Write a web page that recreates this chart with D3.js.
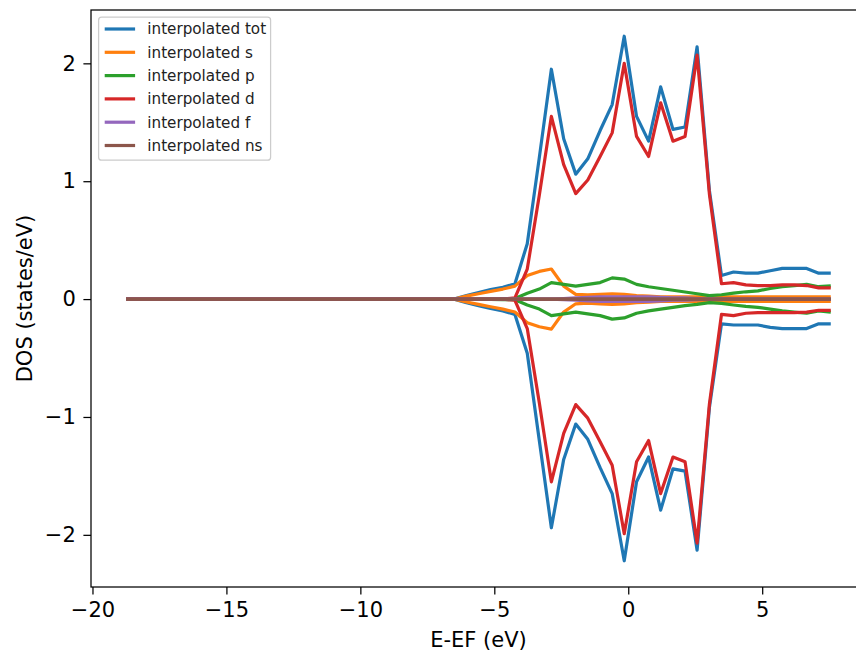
<!DOCTYPE html>
<html>
<head>
<meta charset="utf-8">
<script src="https://cdn.jsdelivr.net/npm/d3@7"></script>
<style>
  body { margin: 0; background: #fff; }
  svg { display: block; font-family: "DejaVu Sans", sans-serif; }
</style>
</head>
<body>
<script>
// energy grid (eV, relative to the Fermi level)
const energy = [-18.74,-18.29,-17.83,-17.38,-16.93,-16.47,-16.02,-15.57,-15.11,-14.66,-14.21,-13.75,-13.30,-12.85,-12.39,-11.94,-11.48,-11.03,-10.58,-10.12,-9.67,-9.22,-8.76,-8.31,-7.86,-7.40,-6.95,-6.50,-6.04,-5.59,-5.14,-4.68,-4.23,-3.77,-3.32,-2.87,-2.41,-1.96,-1.51,-1.05,-0.60,-0.15,0.31,0.76,1.21,1.67,2.12,2.57,3.03,3.48,3.93,4.39,4.84,5.30,5.75,6.20,6.66,7.11,7.56];

// spin up
const totUp = [0,0,0,0,0,0,0,0,0,0,0,0,0,0,0,0,0,0,0,0,0,0,0,0,0,0,0,0.00,0.03,0.055,0.08,0.10,0.13,0.47,1.20,1.95,1.36,1.06,1.19,1.43,1.65,2.23,1.55,1.34,1.80,1.44,1.46,2.14,0.92,0.20,0.23,0.22,0.22,0.24,0.26,0.26,0.26,0.22,0.22];
const sUp   = [0,0,0,0,0,0,0,0,0,0,0,0,0,0,0,0,0,0,0,0,0,0,0,0,0,0,0,0.00,0.025,0.045,0.065,0.085,0.11,0.20,0.235,0.255,0.11,0.04,0.035,0.04,0.045,0.04,0.03,0.025,0.02,0.02,0.02,0.02,0.02,0.02,0.02,0.02,0.02,0.02,0.02,0.02,0.02,0.02,0.02];
const pUp   = [0,0,0,0,0,0,0,0,0,0,0,0,0,0,0,0,0,0,0,0,0,0,0,0,0,0,0,0,0,0.002,0.003,0.004,0.005,0.05,0.085,0.14,0.125,0.11,0.125,0.14,0.18,0.17,0.125,0.105,0.09,0.075,0.06,0.045,0.03,0.037,0.05,0.062,0.07,0.09,0.105,0.114,0.125,0.105,0.112];
const dUp   = [0,0,0,0,0,0,0,0,0,0,0,0,0,0,0,0,0,0,0,0,0,0,0,0,0,0,0,0,0,0,0,0,0.01,0.255,0.88,1.55,1.14,0.895,1.01,1.21,1.41,2.00,1.38,1.21,1.665,1.34,1.38,2.07,0.89,0.13,0.14,0.12,0.115,0.115,0.12,0.12,0.115,0.095,0.095];
const fUp   = [0,0,0,0,0,0,0,0,0,0,0,0,0,0,0,0,0,0,0,0,0,0,0,0,0,0,0,0,0,0,0,0,0,0,0,0,0.005,0.01,0.015,0.02,0.02,0.02,0.02,0.02,0.015,0.01,0.01,0.005,0,0,0,0,0,0,0,0,0,0,0];
const nsUp  = [0,0,0,0,0,0,0,0,0,0,0,0,0,0,0,0,0,0,0,0,0,0,0,0,0,0,0,0,0,0,0,0,0,0,0,0,0,0,0,0,0,0,0,0,0,0,0,0,0,0,0,0,0,0,0,0,0,0,0];

// spin down (plotted negative)
const totDn = [0,0,0,0,0,0,0,0,0,0,0,0,0,0,0,0,0,0,0,0,0,0,0,0,0,0,0,0.00,-0.03,-0.055,-0.08,-0.10,-0.13,-0.46,-1.20,-1.94,-1.36,-1.06,-1.19,-1.43,-1.65,-2.22,-1.55,-1.34,-1.79,-1.44,-1.46,-2.13,-0.92,-0.21,-0.22,-0.22,-0.22,-0.24,-0.25,-0.25,-0.25,-0.21,-0.21];
const sDn   = [0,0,0,0,0,0,0,0,0,0,0,0,0,0,0,0,0,0,0,0,0,0,0,0,0,0,0,0.00,-0.025,-0.045,-0.065,-0.085,-0.11,-0.20,-0.235,-0.255,-0.11,-0.04,-0.035,-0.04,-0.045,-0.04,-0.03,-0.025,-0.02,-0.02,-0.02,-0.02,-0.02,-0.02,-0.02,-0.02,-0.02,-0.02,-0.02,-0.02,-0.02,-0.02,-0.02];
const pDn   = [0,0,0,0,0,0,0,0,0,0,0,0,0,0,0,0,0,0,0,0,0,0,0,0,0,0,0,0,0,-0.002,-0.003,-0.004,-0.005,-0.05,-0.085,-0.14,-0.125,-0.11,-0.125,-0.14,-0.17,-0.16,-0.12,-0.10,-0.085,-0.07,-0.055,-0.045,-0.03,-0.037,-0.05,-0.062,-0.07,-0.085,-0.10,-0.11,-0.12,-0.10,-0.11];
const dDn   = [0,0,0,0,0,0,0,0,0,0,0,0,0,0,0,0,0,0,0,0,0,0,0,0,0,0,0,0,0,0,0,0,-0.01,-0.25,-0.88,-1.55,-1.14,-0.895,-1.01,-1.21,-1.41,-1.99,-1.38,-1.20,-1.65,-1.34,-1.38,-2.07,-0.89,-0.13,-0.14,-0.12,-0.115,-0.115,-0.115,-0.115,-0.11,-0.095,-0.095];
const fDn   = [0,0,0,0,0,0,0,0,0,0,0,0,0,0,0,0,0,0,0,0,0,0,0,0,0,0,0,0,0,0,0,0,0,0,0,0,-0.005,-0.01,-0.015,-0.02,-0.02,-0.02,-0.02,-0.02,-0.015,-0.01,-0.01,-0.005,0,0,0,0,0,0,0,0,0,0,0];
const nsDn  = [0,0,0,0,0,0,0,0,0,0,0,0,0,0,0,0,0,0,0,0,0,0,0,0,0,0,0,0,0,0,0,0,0,0,0,0,0,0,0,0,0,0,0,0,0,0,0,0,0,0,0,0,0,0,0,0,0,0,0];

const labels = ["interpolated tot", "interpolated s", "interpolated p", "interpolated d", "interpolated f", "interpolated ns"];
const colors = ["#1f77b4", "#ff7f0e", "#2ca02c", "#d62728", "#9467bd", "#8c564b"];
const upSeries = [totUp, sUp, pUp, dUp, fUp, nsUp];
const dnSeries = [totDn, sDn, pDn, dDn, fDn, nsDn];

const xTicks = [-20, -15, -10, -5, 0, 5];
const yTicks = [-2, -1, 0, 1, 2];

const width = 856;
const height = 656;
const margin = { top: 10, left: 91 };
const plotW = 775;
const plotH = 577;
const FS = 21;      // axis text size
const LFS = 15.2;   // legend text size
const LW = 3.2;     // line width

const svg = d3.select("body")
  .append("svg")
  .attr("width", width)
  .attr("height", height);

// matplotlib-like 5% margins
const xExt = d3.extent(energy);
const xPad = (xExt[1] - xExt[0]) * 0.05;
const allVals = upSeries.concat(dnSeries).flat();
const yExt = d3.extent(allVals);
const yPad = (yExt[1] - yExt[0]) * 0.05;

const x = d3.scaleLinear()
  .domain([xExt[0] - xPad, xExt[1] + xPad])
  .range([margin.left, margin.left + plotW]);

const y = d3.scaleLinear()
  .domain([yExt[0] - yPad, yExt[1] + yPad])
  .range([margin.top + plotH, margin.top]);

svg.append("defs").append("clipPath").attr("id", "clip")
  .append("rect")
  .attr("x", margin.left).attr("y", margin.top)
  .attr("width", plotW).attr("height", plotH);

const line = d3.line()
  .x((d, i) => x(energy[i]))
  .y((d) => y(d));

const lines = svg.append("g").attr("clip-path", "url(#clip)");
upSeries.forEach((s, k) => {
  lines.append("path")
    .attr("d", line(s))
    .attr("fill", "none")
    .attr("stroke", colors[k])
    .attr("stroke-width", LW)
    .attr("stroke-linejoin", "round");
  lines.append("path")
    .attr("d", line(dnSeries[k]))
    .attr("fill", "none")
    .attr("stroke", colors[k])
    .attr("stroke-width", LW)
    .attr("stroke-linejoin", "round");
});

// axes
const fmt = (d) => d3.format("")(d).replace("-", "\u2212");

const xAxis = svg.append("g")
  .attr("transform", `translate(0,${margin.top + plotH})`)
  .call(d3.axisBottom(x).tickValues(xTicks).tickFormat(fmt).tickSize(7.6).tickPadding(7.6));

const yAxis = svg.append("g")
  .attr("transform", `translate(${margin.left},0)`)
  .call(d3.axisLeft(y).tickValues(yTicks).tickFormat(fmt).tickSize(7.6).tickPadding(7.6));

[xAxis, yAxis].forEach((g) => {
  g.select(".domain").remove();
  g.selectAll(".tick line").attr("stroke", "#000").attr("stroke-width", 1.25);
  g.selectAll(".tick text")
    .attr("fill", "#000")
    .style("font-size", FS + "px")
    .style("font-family", "DejaVu Sans");
});

// frame
svg.append("rect")
  .attr("x", margin.left)
  .attr("y", margin.top)
  .attr("width", plotW)
  .attr("height", plotH)
  .attr("fill", "none")
  .attr("stroke", "#000")
  .attr("stroke-width", 1.25);

// axis labels
svg.append("text")
  .attr("x", margin.left + plotW / 2)
  .attr("y", 647)
  .attr("text-anchor", "middle")
  .style("font-size", FS + "px")
  .text("E-EF (eV)");

svg.append("text")
  .attr("transform", `translate(32,${margin.top + plotH / 2}) rotate(-90)`)
  .attr("text-anchor", "middle")
  .style("font-size", FS + "px")
  .text("DOS (states/eV)");

// legend
const leg = svg.append("g").attr("transform", "translate(98.6,17.2)");
const rowH = 23.3;
leg.append("rect")
  .attr("width", 172)
  .attr("height", 143)
  .attr("rx", 3)
  .attr("fill", "#fff")
  .attr("fill-opacity", 0.8)
  .attr("stroke", "#cccccc")
  .attr("stroke-width", 1.25);

labels.forEach((lab, i) => {
  const cy = 11.8 + i * rowH;
  leg.append("line")
    .attr("x1", 6.1).attr("x2", 36.5)
    .attr("y1", cy).attr("y2", cy)
    .attr("stroke", colors[i])
    .attr("stroke-width", LW);
  leg.append("text")
    .attr("x", 48.7)
    .attr("y", cy + 5.4)
    .style("font-size", LFS + "px")
    .attr("fill", "#222")
    .text(lab);
});
</script>
</body>
</html>
